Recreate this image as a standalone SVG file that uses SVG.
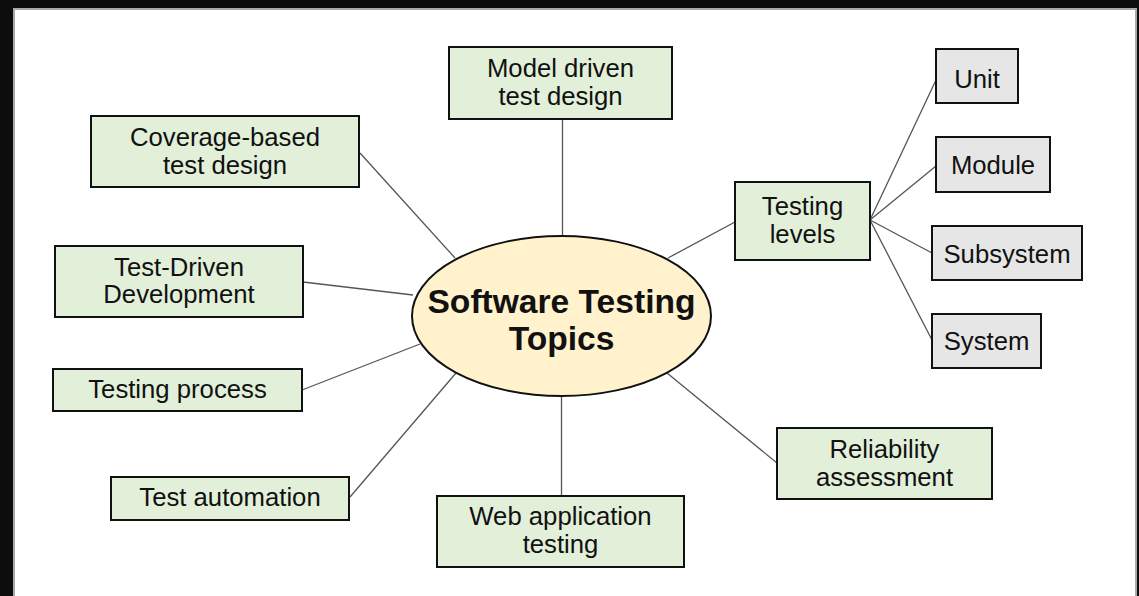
<svg xmlns="http://www.w3.org/2000/svg" width="1139" height="596" viewBox="0 0 1139 596">
<style>
.bx{fill:#e2efd9;stroke:#111;stroke-width:2}
.gb{fill:#e6e6e6;stroke:#111;stroke-width:2}
.t{font-family:"Liberation Sans",Arial,sans-serif;font-size:25.7px;fill:#111;text-anchor:middle}
.h{font-size:33.6px;font-weight:bold}
.c{stroke:#555;stroke-width:1.3;fill:none}
</style>
<rect x="0" y="0" width="1139" height="596" fill="#0d0d0d"/>
<rect x="14" y="9" width="1122" height="600" fill="#fff" stroke="#aaa" stroke-width="2"/>
<g id="connectors">
<line class="c" x1="562.5" y1="119" x2="562.5" y2="236"/>
<line class="c" x1="360" y1="153" x2="455" y2="258"/>
<line class="c" x1="303" y1="282" x2="413" y2="295"/>
<line class="c" x1="302" y1="390" x2="420" y2="344"/>
<line class="c" x1="350" y1="497" x2="456" y2="373"/>
<line class="c" x1="561.5" y1="396" x2="561.5" y2="496"/>
<line class="c" x1="667" y1="373" x2="777" y2="463"/>
<line class="c" x1="668" y1="258" x2="735" y2="222"/>
<line class="c" x1="870" y1="220" x2="936" y2="80"/>
<line class="c" x1="870" y1="220" x2="936" y2="166"/>
<line class="c" x1="870" y1="220" x2="932" y2="253"/>
<line class="c" x1="870" y1="220" x2="932" y2="340"/>
</g>
<g id="center">
<ellipse cx="561.5" cy="316" rx="149.5" ry="80" fill="#fff2cc" stroke="#111" stroke-width="2"/>
<text class="t h" x="561.5" y="313">Software Testing</text>
<text class="t h" x="561.5" y="350">Topics</text>
</g>
<g id="model">
<rect class="bx" x="449" y="47" width="223" height="72"/>
<text class="t" x="560.5" y="77">Model driven</text>
<text class="t" x="560.5" y="105">test design</text>
</g>
<g id="coverage">
<rect class="bx" x="91" y="116" width="268" height="71"/>
<text class="t" x="225" y="146">Coverage-based</text>
<text class="t" x="225" y="174">test design</text>
</g>
<g id="tdd">
<rect class="bx" x="55" y="246" width="248" height="71"/>
<text class="t" x="179" y="276">Test-Driven</text>
<text class="t" x="179" y="303">Development</text>
</g>
<g id="process">
<rect class="bx" x="53" y="369" width="249" height="42"/>
<text class="t" x="177.5" y="398">Testing process</text>
</g>
<g id="automation">
<rect class="bx" x="111" y="477" width="238" height="43"/>
<text class="t" x="230" y="506">Test automation</text>
</g>
<g id="web">
<rect class="bx" x="437" y="496" width="247" height="71"/>
<text class="t" x="560.5" y="525">Web application</text>
<text class="t" x="560.5" y="553">testing</text>
</g>
<g id="reliability">
<rect class="bx" x="777" y="428" width="215" height="71"/>
<text class="t" x="884.5" y="458">Reliability</text>
<text class="t" x="884.5" y="486">assessment</text>
</g>
<g id="levels">
<rect class="bx" x="735" y="182" width="135" height="78"/>
<text class="t" x="802.5" y="215">Testing</text>
<text class="t" x="802.5" y="243">levels</text>
</g>
<g id="unit">
<rect class="gb" x="936" y="49" width="82" height="54"/>
<text class="t" x="977" y="88">Unit</text>
</g>
<g id="module">
<rect class="gb" x="936" y="137" width="114" height="55"/>
<text class="t" x="993" y="174">Module</text>
</g>
<g id="subsystem">
<rect class="gb" x="932" y="226" width="150" height="54"/>
<text class="t" x="1007" y="263">Subsystem</text>
</g>
<g id="system">
<rect class="gb" x="932" y="314" width="109" height="54"/>
<text class="t" x="986.5" y="350">System</text>
</g>
</svg>
